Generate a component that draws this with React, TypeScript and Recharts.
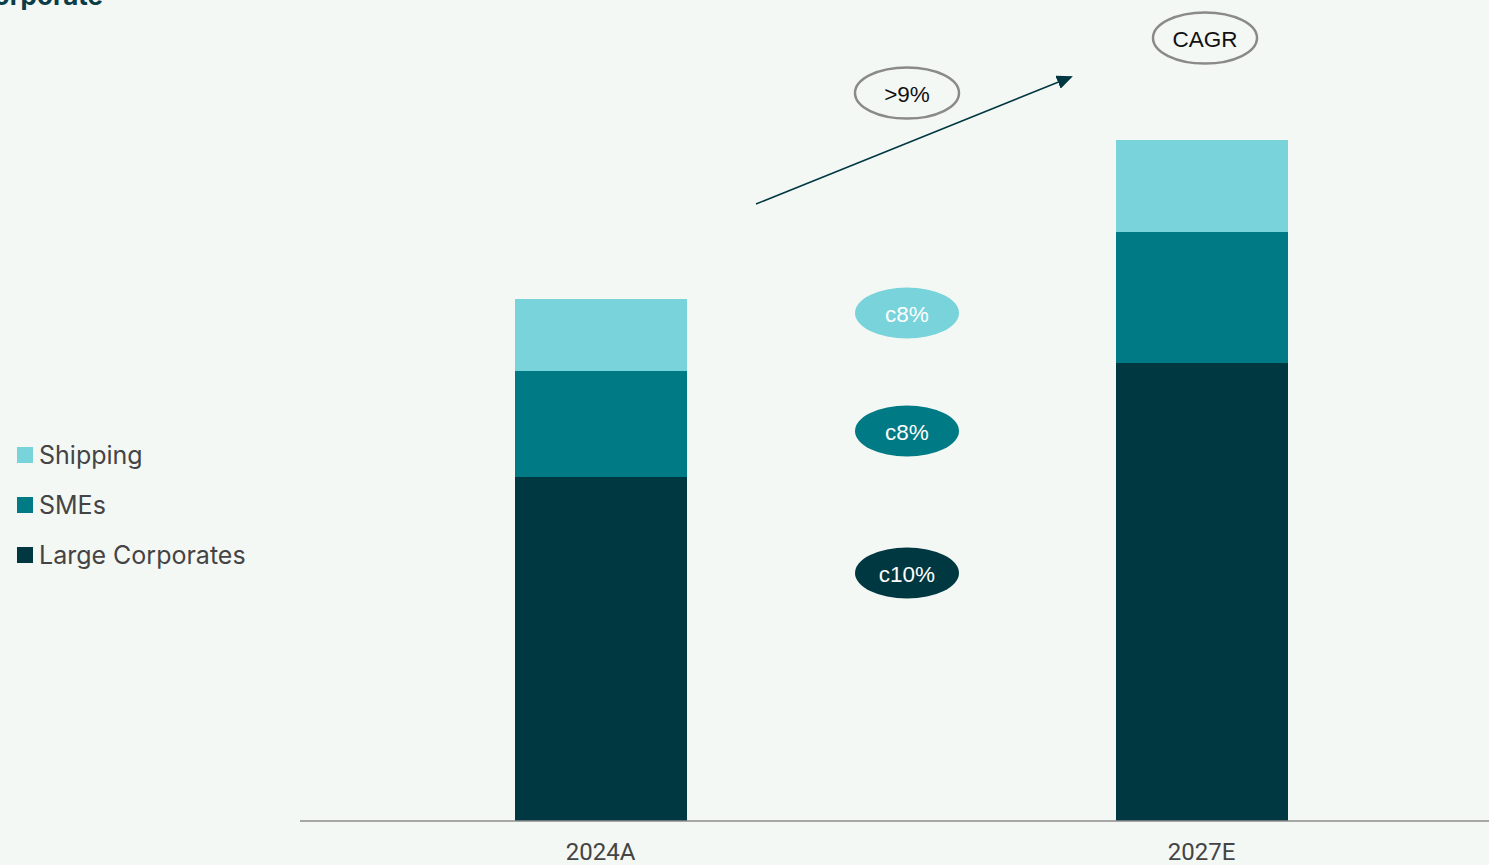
import React from "react";
import { BarChart, Bar, XAxis, YAxis } from "recharts";

const categories = ["2024A", "2027E"];
const largeCorporates = [344, 458];
const smes = [106, 131];
const shipping = [72, 92];

const seriesNames = ["Large Corporates", "SMEs", "Shipping"];
const seriesColors = ["#003841", "#007a84", "#79d3db"];
const cagrLabels = ["c10%", "c8%", "c8%"];
const totalCagr = ">9%";

const data = categories.map((c, i) => ({
  name: c,
  lc: largeCorporates[i],
  sme: smes[i],
  ship: shipping[i],
}));

const BG = "#f4f8f5";

const LegendBox = () => {
  const items = [2, 1, 0];
  return (
    <div
      style={{
        position: "absolute",
        left: 17,
        top: 430,
        fontFamily: "Inter, 'Open Sans', sans-serif",
      }}
    >
      {items.map((k) => (
        <div key={k} style={{ display: "flex", alignItems: "center", height: 50 }}>
          <div
            style={{
              width: 16,
              height: 16,
              background: seriesColors[k],
              marginRight: 6,
            }}
          />
          <span style={{ fontSize: 25, color: "#444", lineHeight: "25px", whiteSpace: "nowrap" }}>
            {seriesNames[k]}
          </span>
        </div>
      ))}
    </div>
  );
};

const Pill = ({
  cx,
  cy,
  text,
  fill,
  stroke,
  color,
}: {
  cx: number;
  cy: number;
  text: string;
  fill: string;
  stroke?: string;
  color: string;
}) => (
  <g>
    <ellipse
      cx={cx}
      cy={cy}
      rx={52}
      ry={25.5}
      fill={fill}
      stroke={stroke || "none"}
      strokeWidth={stroke ? 2.5 : 0}
    />
    <text
      x={cx}
      y={cy + 1}
      textAnchor="middle"
      dominantBaseline="central"
      fontSize={22.5}
      fontFamily="'Liberation Sans', Arial, sans-serif"
      fill={color}
    >
      {text}
    </text>
  </g>
);

export default function App() {
  return (
    <div
      style={{
        position: "fixed",
        left: 0,
        top: 0,
        width: 1489,
        height: 865,
        overflow: "hidden",
        background: BG,
      }}
    >
      <BarChart
        width={1502}
        height={865}
        data={data}
        margin={{ top: 21, right: 0, bottom: 0, left: 300 }}
        barCategoryGap={0}
      >
        <YAxis hide domain={[0, 800]} />
        <XAxis
          dataKey="name"
          height={44}
          axisLine={{ stroke: "#8c8c8c", strokeWidth: 1.5 }}
          tickLine={false}
          tickMargin={16}
          tick={{
            fill: "#444",
            fontSize: 24,
            fontFamily: "Roboto, 'Liberation Sans', sans-serif",
          }}
        />
        <Bar dataKey="lc" stackId="a" fill={seriesColors[0]} barSize={172} isAnimationActive={false} />
        <Bar dataKey="sme" stackId="a" fill={seriesColors[1]} barSize={172} isAnimationActive={false} />
        <Bar dataKey="ship" stackId="a" fill={seriesColors[2]} barSize={172} isAnimationActive={false} />
      </BarChart>
      <LegendBox />
      <svg
        width={1489}
        height={865}
        style={{ position: "absolute", left: 0, top: 0, pointerEvents: "none" }}
      >
        <defs>
          <marker
            id="arrow"
            markerWidth="16"
            markerHeight="14"
            refX="14"
            refY="7"
            orient="auto"
            markerUnits="userSpaceOnUse"
            viewBox="0 0 16 14"
          >
            <path d="M0,0 L16,7 L0,14 z" fill="#003841" />
          </marker>
        </defs>
        <text
          x={103}
          y={5}
          textAnchor="end"
          fontSize={26}
          fontWeight={700}
          fontFamily="Inter, 'Open Sans', sans-serif"
          fill="#0a3d47"
        >
          Corporate
        </text>
        <line
          x1={756}
          y1={204}
          x2={1071}
          y2={77}
          stroke="#003841"
          strokeWidth={1.5}
          markerEnd="url(#arrow)"
        />
        <Pill cx={907} cy={93} text={totalCagr} fill="none" stroke="#8a8a8a" color="#111" />
        <Pill cx={1205} cy={38} text="CAGR" fill="none" stroke="#8a8a8a" color="#111" />
        <Pill cx={907} cy={313} text={cagrLabels[2]} fill={seriesColors[2]} color="#fff" />
        <Pill cx={907} cy={431} text={cagrLabels[1]} fill={seriesColors[1]} color="#fff" />
        <Pill cx={907} cy={573} text={cagrLabels[0]} fill={seriesColors[0]} color="#fff" />
      </svg>
    </div>
  );
}
